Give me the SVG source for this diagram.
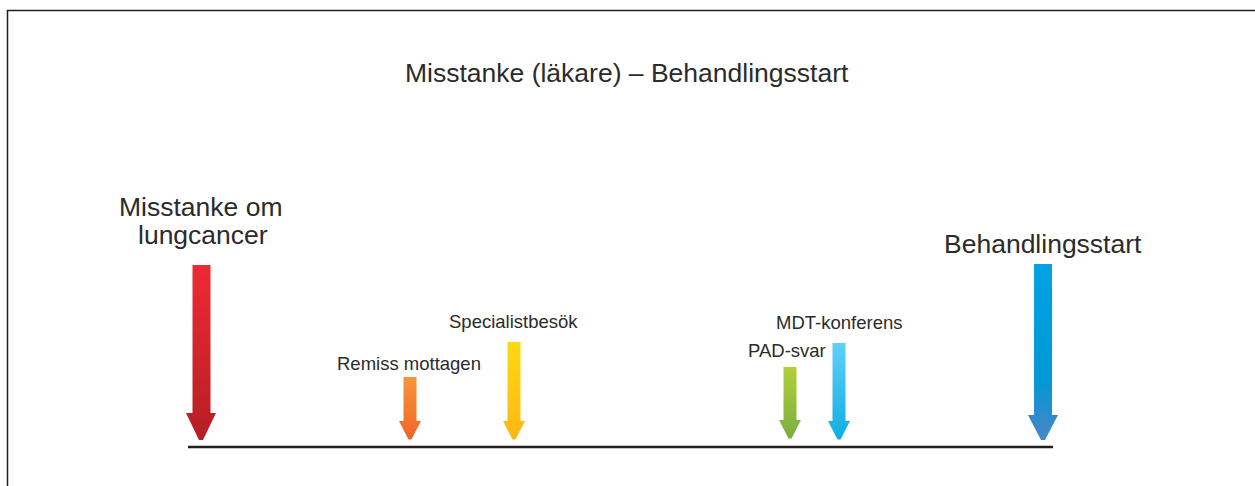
<svg xmlns="http://www.w3.org/2000/svg" width="1255" height="486" viewBox="0 0 1255 486">
<style>
text{font-family:"Liberation Sans",Arial,sans-serif;fill:#2b2b2b}
.t{font-size:26.5px}
.big{font-size:26.5px}
.lab{font-size:18.5px}
.frame{stroke:#231f20;stroke-width:1.5;fill:none}
.base{stroke:#231f20;stroke-width:2.5}
</style>
<defs>
<linearGradient id="gRed" x1="0" y1="0" x2="0" y2="1"><stop offset="0" stop-color="#ee2a33"/><stop offset="1" stop-color="#b51e24"/></linearGradient>
<linearGradient id="gOrange" x1="0" y1="0" x2="0" y2="1"><stop offset="0" stop-color="#f7943a"/><stop offset="1" stop-color="#f1652a"/></linearGradient>
<linearGradient id="gYellow" x1="0" y1="0" x2="0" y2="1"><stop offset="0" stop-color="#ffd90f"/><stop offset="1" stop-color="#fdb716"/></linearGradient>
<linearGradient id="gGreen" x1="0" y1="0" x2="0" y2="1"><stop offset="0" stop-color="#b3cf3a"/><stop offset="1" stop-color="#7aae41"/></linearGradient>
<linearGradient id="gCyan" x1="0" y1="0" x2="0" y2="1"><stop offset="0" stop-color="#60d0f6"/><stop offset="1" stop-color="#0fade4"/></linearGradient>
<linearGradient id="gBlue" x1="0" y1="0" x2="0" y2="1"><stop offset="0" stop-color="#00a3e2"/><stop offset="0.65" stop-color="#0098d6"/><stop offset="1" stop-color="#4a85c5"/></linearGradient>
</defs>
<path class="frame" d="M7.5,486 V10.5 H1255"/>
<text class="t" x="405" y="82">Misstanke (läkare) – Behandlingsstart</text>
<g id="connectors">
<line class="base" x1="188" y1="447" x2="1053" y2="447"/>
</g>
<g id="misstanke">
<text class="big" x="119" y="216">Misstanke om</text>
<text class="big" x="138" y="244">lungcancer</text>
<path fill="url(#gRed)" d="M192.5,265 H210.5 V413 H216 L203,440 L199,440 L186,413 H192.5 Z"/>
</g>
<g id="remiss">
<text class="lab" x="337" y="370">Remiss mottagen</text>
<path fill="url(#gOrange)" d="M403.5,377 H416.5 V421 H421 L411.5,439.5 L408.5,439.5 L399,421 H403.5 Z"/>
</g>
<g id="specialist">
<text class="lab" x="449" y="328">Specialistbesök</text>
<path fill="url(#gYellow)" d="M507.5,342 H520.5 V421 H525 L515.5,439.5 L512.5,439.5 L503,421 H507.5 Z"/>
</g>
<g id="pad">
<text class="lab" x="748" y="357">PAD-svar</text>
<path fill="url(#gGreen)" d="M783.5,367 H796.5 V420 H801 L791.5,438.5 L788.5,438.5 L779,420 H783.5 Z"/>
</g>
<g id="mdt">
<text class="lab" x="776" y="329">MDT-konferens</text>
<path fill="url(#gCyan)" d="M832.5,343 H845.5 V421 H850 L840.5,439.5 L837.5,439.5 L828,421 H832.5 Z"/>
</g>
<g id="behandling">
<text class="big" x="944" y="253">Behandlingsstart</text>
<path fill="url(#gBlue)" d="M1034,264 H1052 V415 H1058 L1045,440 L1041,440 L1028,415 H1034 Z"/>
</g>
</svg>
